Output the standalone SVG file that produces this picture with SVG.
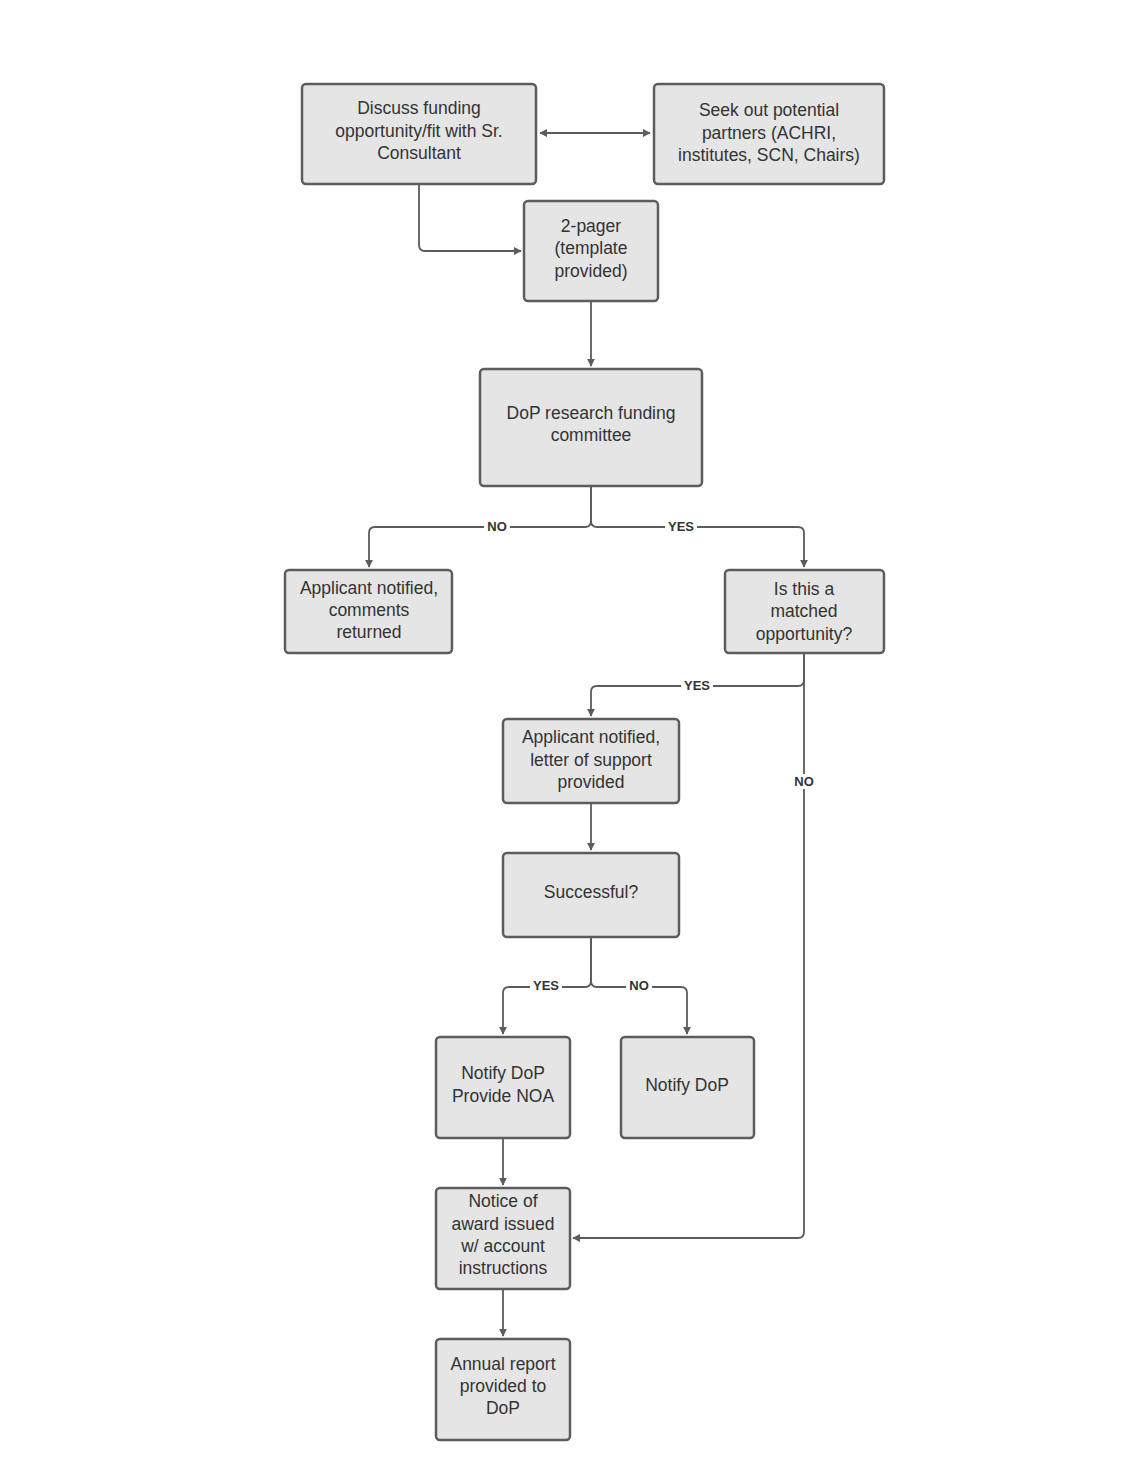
<svg xmlns="http://www.w3.org/2000/svg" width="1140" height="1475" viewBox="0 0 1140 1475">
<style>
.n{fill:#e5e5e5;stroke:#5c5c5c;stroke-width:2.5}
.t{font-family:"Liberation Sans",Arial,sans-serif;font-size:17.5px;fill:#333;text-anchor:middle}
.c{fill:none;stroke:#5c5c5c;stroke-width:1.8}
.l{font-family:"Liberation Sans",Arial,sans-serif;font-size:13px;font-weight:bold;fill:#333;text-anchor:middle}
.lb{fill:#fff}
</style>
<defs><marker id="a" viewBox="0 0 10 10" refX="9" refY="5" markerWidth="8" markerHeight="8" markerUnits="userSpaceOnUse" orient="auto-start-reverse"><path d="M0,0L10,5L0,10z" fill="#5c5c5c"/></marker></defs>
<rect width="1140" height="1475" fill="#fff"/>
<g id="connectors">
<path class="c" d="M540,133H650" marker-start="url(#a)" marker-end="url(#a)"/>
<path class="c" d="M419,185V245q0,6 6,6H521" marker-end="url(#a)"/>
<path class="c" d="M591,302V366" marker-end="url(#a)"/>
<path class="c" d="M591,487V521q0,6 -6,6H375q-6,0 -6,6V567" marker-end="url(#a)"/>
<path class="c" d="M591,487V521q0,6 6,6H798q6,0 6,6V567" marker-end="url(#a)"/>
<path class="c" d="M804,654V680q0,6 -6,6H597q-6,0 -6,6V716" marker-end="url(#a)"/>
<path class="c" d="M804,654V1232q0,6 -6,6H573" marker-end="url(#a)"/>
<path class="c" d="M591,804V850" marker-end="url(#a)"/>
<path class="c" d="M591,938V981q0,6 -6,6H509q-6,0 -6,6V1034" marker-end="url(#a)"/>
<path class="c" d="M591,938V981q0,6 6,6H681q6,0 6,6V1034" marker-end="url(#a)"/>
<path class="c" d="M503,1139V1185" marker-end="url(#a)"/>
<path class="c" d="M503,1290V1336" marker-end="url(#a)"/>
<rect class="lb" x="484" y="519" width="26" height="15"/><text class="l" x="497" y="531">NO</text>
<rect class="lb" x="665" y="519" width="32" height="15"/><text class="l" x="681" y="531">YES</text>
<rect class="lb" x="681" y="678" width="32" height="15"/><text class="l" x="697" y="690">YES</text>
<rect class="lb" x="791" y="774" width="26" height="15"/><text class="l" x="804" y="786">NO</text>
<rect class="lb" x="530" y="978" width="32" height="15"/><text class="l" x="546" y="990">YES</text>
<rect class="lb" x="626" y="978" width="26" height="15"/><text class="l" x="639" y="990">NO</text>
</g>
<g id="n1"><rect class="n" x="302" y="84" width="234" height="100" rx="4"/><text class="t" x="419" y="114">Discuss funding</text><text class="t" x="419" y="137">opportunity/fit with Sr.</text><text class="t" x="419" y="159">Consultant</text></g>
<g id="n2"><rect class="n" x="654" y="84" width="230" height="100" rx="4"/><text class="t" x="769" y="116">Seek out potential</text><text class="t" x="769" y="139">partners (ACHRI,</text><text class="t" x="769" y="161">institutes, SCN, Chairs)</text></g>
<g id="n3"><rect class="n" x="524" y="201" width="134" height="100" rx="4"/><text class="t" x="591" y="232">2-pager</text><text class="t" x="591" y="254">(template</text><text class="t" x="591" y="277">provided)</text></g>
<g id="n4"><rect class="n" x="480" y="369" width="222" height="117" rx="4"/><text class="t" x="591" y="419">DoP research funding</text><text class="t" x="591" y="441">committee</text></g>
<g id="n5"><rect class="n" x="285" y="570" width="167" height="83" rx="4"/><text class="t" x="369" y="594">Applicant notified,</text><text class="t" x="369" y="616">comments</text><text class="t" x="369" y="638">returned</text></g>
<g id="n6"><rect class="n" x="725" y="570" width="159" height="83" rx="4"/><text class="t" x="804" y="595">Is this a</text><text class="t" x="804" y="617">matched</text><text class="t" x="804" y="640">opportunity?</text></g>
<g id="n7"><rect class="n" x="503" y="719" width="176" height="84" rx="4"/><text class="t" x="591" y="743">Applicant notified,</text><text class="t" x="591" y="766">letter of support</text><text class="t" x="591" y="788">provided</text></g>
<g id="n8"><rect class="n" x="503" y="853" width="176" height="84" rx="4"/><text class="t" x="591" y="898">Successful?</text></g>
<g id="n9"><rect class="n" x="436" y="1037" width="134" height="101" rx="4"/><text class="t" x="503" y="1079">Notify DoP</text><text class="t" x="503" y="1102">Provide NOA</text></g>
<g id="n10"><rect class="n" x="621" y="1037" width="133" height="101" rx="4"/><text class="t" x="687" y="1091">Notify DoP</text></g>
<g id="n11"><rect class="n" x="436" y="1188" width="134" height="101" rx="4"/><text class="t" x="503" y="1207">Notice of</text><text class="t" x="503" y="1230">award issued</text><text class="t" x="503" y="1252">w/ account</text><text class="t" x="503" y="1274">instructions</text></g>
<g id="n12"><rect class="n" x="436" y="1339" width="134" height="101" rx="4"/><text class="t" x="503" y="1370">Annual report</text><text class="t" x="503" y="1392">provided to</text><text class="t" x="503" y="1414">DoP</text></g>
</svg>
